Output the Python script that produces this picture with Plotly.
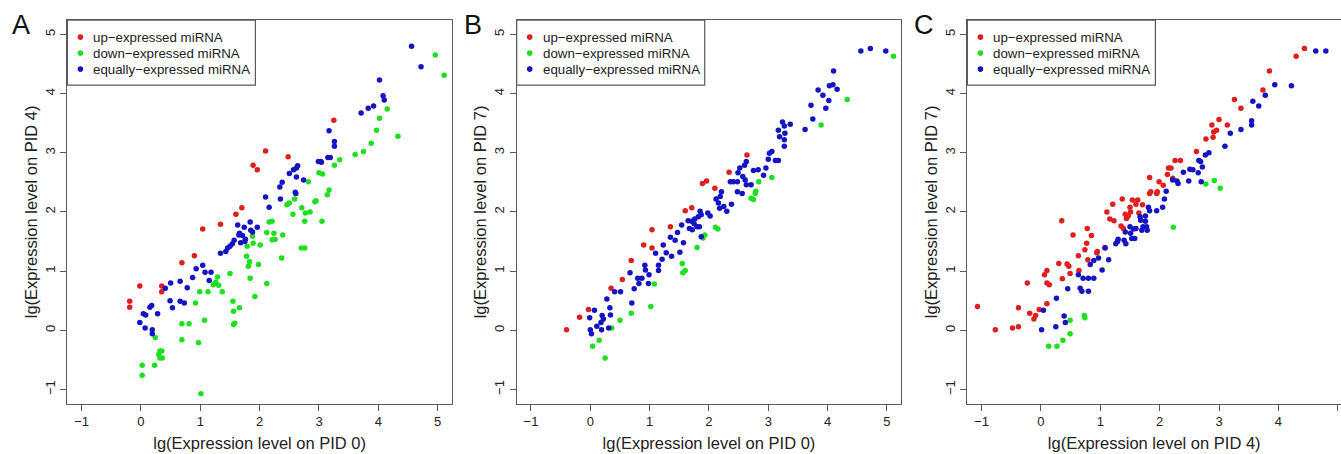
import plotly.graph_objects as go

# ---------------- Panel A : PID 0 (x) vs PID 4 (y) ----------------
a_up_x = [-0.19, -0.19, -0.02, 0.35, 0.35, 0.69, 0.90, 1.04, 1.34, 1.60, 1.70, 1.89, 1.96, 2.10, 2.48, 3.25]
a_up_y = [0.49, 0.39, 0.75, 0.75, 0.65, 1.14, 1.26, 1.71, 1.79, 1.96, 2.07, 2.79, 2.71, 3.03, 2.93, 3.55]

a_down_x = [0.02, 0.02, 0.24, 0.23, 0.32, 0.35, 0.32, 0.36, 0.30, 0.69, 0.81, 0.69, 0.92, 0.97, 0.99,
            1.01, 1.07, 1.13, 1.22, 1.29, 1.26, 1.31, 1.37, 1.50, 1.55, 1.56, 1.56, 1.58, 1.66, 1.78,
            1.79, 1.81, 1.83, 1.84, 1.88, 1.89, 1.92, 1.98, 2.01, 2.12, 2.12, 2.16, 2.21, 2.21, 2.24,
            2.26, 2.37, 2.39, 2.46, 2.50, 2.56, 2.59, 2.71, 2.70, 2.76, 2.76, 2.77, 2.82, 2.85, 2.93,
            2.95, 3.00, 3.06, 3.05, 3.14, 3.17, 3.26, 3.35, 3.61, 3.75, 3.88, 3.97, 4.02, 4.15, 4.33,
            4.96, 5.11]
a_down_y = [-0.59, -0.76, -0.12, -0.59, -0.35, -0.35, -0.47, -0.47, -0.41, 0.11, 0.11, -0.16, 0.46, -0.21, 0.65,
            -1.07, 0.17, 0.65, 0.77, 0.90, 0.81, 0.76, 0.65, 0.96, 0.49, 0.32, 0.10, 0.12, 0.38, 1.25,
            1.42, 1.08, 1.16, 0.88, 1.59, 1.47, 0.57, 1.11, 1.44, 1.65, 0.79, 1.83, 1.84, 1.53, 1.64,
            1.54, 1.22, 1.61, 2.12, 2.15, 1.96, 2.22, 2.07, 1.39, 1.39, 1.84, 1.98, 2.51, 2.00, 2.17,
            2.19, 2.66, 2.64, 1.84, 2.29, 2.37, 2.79, 2.88, 2.97, 3.02, 3.16, 3.38, 3.58, 3.74, 3.28,
            4.65, 4.31]

a_eq_x = [-0.02, 0.04, 0.08, 0.07, 0.15, 0.18, 0.19, 0.19, 0.28, 0.41, 0.50, 0.49, 0.53, 0.66, 0.66,
          0.73, 0.78, 0.87, 0.93, 1.04, 1.08, 1.15, 1.18, 1.34, 1.43, 1.46, 1.50, 1.54, 1.57, 1.63,
          1.66, 1.65, 1.68, 1.71, 1.74, 1.76, 1.75, 1.84, 1.85, 1.88, 1.96, 2.10, 2.16, 2.34, 2.38,
          2.35, 2.50, 2.57, 2.60, 2.62, 2.64, 2.62, 2.61, 2.74, 2.99, 3.04, 3.03, 3.15, 3.19, 3.17,
          3.26, 3.26, 3.71, 3.83, 3.92, 4.02, 4.08, 4.10, 4.56, 4.72]
a_eq_y = [0.13, 0.28, 0.26, 0.04, 0.39, 0.42, 0.01, -0.06, 0.28, 0.71, 0.80, 0.50, 0.38, 0.83, 0.49,
          0.46, 0.72, 0.89, 1.04, 1.10, 0.98, 0.84, 0.98, 1.30, 1.33, 1.39, 1.42, 1.46, 1.52, 1.78,
          1.64, 1.61, 1.48, 1.60, 1.74, 1.54, 1.50, 1.83, 1.69, 1.66, 1.74, 2.25, 2.08, 2.42, 2.50,
          2.22, 2.65, 2.71, 2.33, 2.59, 2.78, 2.74, 2.31, 2.54, 2.85, 2.84, 2.85, 2.92, 2.92, 3.37,
          3.19, 3.11, 3.67, 3.75, 3.79, 4.23, 3.96, 3.89, 4.80, 4.45]

# ---------------- Panel B : PID 0 (x) vs PID 7 (y) ----------------
b_up_x = [-0.40, -0.18, -0.03, 0.35, 0.54, 0.69, 0.90, 1.04, 1.04, 1.35, 1.60, 1.71, 1.89, 1.96, 2.10, 2.34, 2.64]
b_up_y = [0.01, 0.22, 0.35, 0.71, 0.86, 1.18, 1.44, 1.70, 1.39, 1.75, 2.02, 2.07, 2.48, 2.52, 2.40, 2.67, 2.96]

b_down_x = [0.04, 0.15, 0.25, 0.36, 0.50, 0.69, 1.02, 1.08, 1.55, 1.56, 1.60, 1.80, 1.90, 1.93, 2.11,
            2.15, 2.71, 2.75, 2.78, 2.79, 2.84, 3.06, 3.89, 4.33, 5.11]
b_down_y = [-0.27, -0.17, -0.47, 0.04, 0.17, 0.29, 0.40, 0.78, 1.13, 0.97, 1.01, 1.40, 1.56, 1.61, 1.74,
            1.71, 2.23, 2.21, 2.31, 2.35, 2.51, 2.58, 3.47, 3.90, 4.63]

b_eq_x = [0.00, 0.02, -0.01, 0.07, 0.11, 0.18, 0.20, 0.22, 0.19, 0.28, 0.31, 0.33, 0.34, 0.41, 0.51,
          0.67, 0.70, 0.74, 0.80, 0.82, 0.87, 0.92, 0.93, 0.99, 0.98, 1.10, 1.15, 1.15, 1.21, 1.23,
          1.28, 1.35, 1.37, 1.43, 1.47, 1.51, 1.54, 1.57, 1.65, 1.67, 1.71, 1.72, 1.75, 1.76, 1.80,
          1.82, 1.85, 1.84, 1.87, 1.87, 1.98, 2.02, 2.12, 2.16, 2.19, 2.21, 2.18, 2.25, 2.30, 2.38,
          2.36, 2.41, 2.48, 2.49, 2.48, 2.52, 2.56, 2.57, 2.60, 2.61, 2.63, 2.63, 2.71, 2.75, 2.83,
          2.92, 2.96, 3.00, 3.02, 3.06, 3.12, 3.17, 3.17, 3.19, 3.24, 3.27, 3.28, 3.27, 3.27, 3.37,
          3.62, 3.72, 3.75, 3.84, 3.92, 3.97, 4.02, 4.03, 4.09, 4.10, 4.16, 4.56, 4.72, 4.98]
b_eq_y = [0.01, -0.06, 0.21, 0.34, 0.07, 0.13, 0.25, 0.19, 0.01, 0.53, 0.04, 0.38, 0.26, 0.65, 0.65,
          0.97, 0.46, 0.70, 0.88, 0.79, 0.88, 1.10, 1.02, 0.94, 0.79, 1.30, 1.10, 1.01, 1.20, 1.44,
          1.31, 1.57, 1.25, 1.52, 1.65, 1.32, 1.78, 1.48, 1.85, 1.72, 1.84, 1.70, 1.80, 1.88, 1.75,
          1.92, 2.01, 1.75, 1.58, 1.95, 1.98, 1.93, 2.22, 2.15, 2.26, 2.34, 2.06, 2.09, 2.01, 2.13,
          2.51, 2.51, 2.51, 2.66, 2.34, 2.74, 2.31, 2.60, 2.79, 2.54, 2.85, 2.46, 2.46, 2.70, 2.71,
          2.62, 2.74, 2.89, 2.99, 3.02, 2.87, 2.87, 3.38, 3.27, 3.52, 3.45, 3.33, 3.22, 3.11, 3.48,
          3.39, 3.80, 3.57, 4.06, 3.97, 3.75, 3.88, 4.13, 4.15, 4.38, 4.07, 4.72, 4.76, 4.72]

# ---------------- Panel C : PID 4 (x) vs PID 7 (y) ----------------
c_up_x = [-1.07, -0.77, -0.48, -0.38, -0.38, -0.23, -0.19, -0.12, -0.09, -0.03, 0.06, 0.10, 0.10, 0.14, 0.10,
          0.30, 0.36, 0.35, 0.44, 0.47, 0.49, 0.54, 0.63, 0.64, 0.74, 0.77, 0.78, 0.79, 0.85, 0.94,
          0.95, 1.08, 1.11, 1.16, 1.21, 1.23, 1.37, 1.35, 1.39, 1.42, 1.44, 1.47, 1.50, 1.51, 1.54,
          1.60, 1.63, 1.65, 1.71, 1.83, 1.83, 1.85, 1.95, 1.96, 1.99, 2.06, 2.13, 2.15, 2.19, 2.22,
          2.26, 2.35, 2.62, 2.78, 2.88, 2.90, 2.91, 2.96, 3.00, 3.14, 3.26, 3.37, 3.74, 3.85, 4.30,
          4.44]
c_up_y = [0.40, 0.01, 0.04, 0.06, 0.38, 0.80, 0.29, 0.19, 0.25, 0.35, 0.94, 1.01, 0.80, 0.77, 0.45,
          1.13, 0.87, 1.85, 1.12, 1.08, 0.96, 1.61, 1.26, 1.01, 1.36, 1.47, 1.72, 1.19, 1.60, 1.31,
          1.33, 1.40, 2.00, 1.88, 2.13, 1.85, 2.22, 1.76, 1.72, 1.96, 1.89, 1.93, 2.08, 2.00, 2.20,
          2.13, 2.20, 1.98, 2.12, 2.58, 2.31, 2.34, 2.31, 2.34, 2.51, 2.45, 2.63, 2.74, 2.74, 2.57,
          2.87, 2.87, 3.02, 3.23, 3.47, 3.26, 3.35, 3.38, 3.56, 3.47, 3.90, 3.75, 4.06, 4.38, 4.63,
          4.76]

c_down_x = [0.13, 0.27, 0.37, 0.49, 0.49, 0.73, 0.74, 2.23, 2.78, 2.92, 3.02]
c_down_y = [-0.27, -0.27, -0.17, -0.06, 0.17, 0.25, 0.21, 1.74, 2.47, 2.53, 2.40]

c_eq_x = [0.01, 0.04, 0.25, 0.26, 0.39, 0.41, 0.45, 0.63, 0.66, 0.69, 0.71, 0.80, 0.80, 0.83, 0.89,
          0.89, 0.97, 1.03, 1.08, 1.14, 1.26, 1.30, 1.29, 1.40, 1.42, 1.43, 1.50, 1.51, 1.53, 1.58,
          1.56, 1.60, 1.67, 1.68, 1.70, 1.72, 1.76, 1.76, 1.78, 1.79, 1.81, 1.83, 1.95, 2.05, 2.08,
          2.11, 2.22, 2.29, 2.31, 2.40, 2.49, 2.51, 2.56, 2.65, 2.66, 2.69, 2.72, 2.70, 2.77, 2.83,
          3.10, 3.19, 3.37, 3.55, 3.55, 3.57, 3.67, 3.78, 3.94, 4.22, 4.63, 4.80]
c_eq_y = [0.01, 0.34, 0.06, 0.54, 0.24, 0.13, 0.70, 0.94, 0.71, 0.66, 0.88, 0.66, 0.88, 1.11, 0.88,
          1.18, 1.22, 1.02, 1.39, 1.19, 1.46, 1.54, 1.50, 1.52, 1.66, 1.46, 1.75, 1.64, 1.55, 1.55,
          1.71, 1.72, 1.92, 1.86, 1.69, 1.75, 1.93, 1.84, 1.75, 1.69, 2.08, 2.02, 2.02, 2.08, 2.22,
          2.35, 2.54, 2.52, 2.48, 2.67, 2.52, 2.72, 2.71, 2.66, 2.87, 2.85, 2.76, 2.51, 2.96, 3.00,
          3.11, 3.33, 3.39, 3.54, 3.47, 3.87, 3.79, 3.97, 4.15, 4.13, 4.72, 4.72]

series_names = ["up\u2212expressed miRNA", "down\u2212expressed miRNA", "equally\u2212expressed miRNA"]
series_colors = ["#e01e1e", "#1fe01f", "#1414c4"]
tick_vals = [-1, 0, 1, 2, 3, 4, 5]
panel_letters = ["A", "B", "C"]
x_titles = ["lg(Expression level on PID 0)", "lg(Expression level on PID 0)", "lg(Expression level on PID 4)"]
y_titles = ["lg(Expression level on PID 4)", "lg(Expression level on PID 7)", "lg(Expression level on PID 7)"]

panels = [
    [(a_up_x, a_up_y), (a_down_x, a_down_y), (a_eq_x, a_eq_y)],
    [(b_up_x, b_up_y), (b_down_x, b_down_y), (b_eq_x, b_eq_y)],
    [(c_up_x, c_up_y), (c_down_x, c_down_y), (c_eq_x, c_eq_y)],
]

W, H = 1341, 454
box_left = [67.4, 516.7, 967.4]
x_domains = [[67.4 / W, 451.9 / W], [516.7 / W, 901.2 / W], [967.4 / W, 1.0]]
x_ranges = [[-1.24, 5.24], [-1.24, 5.24], [-1.24, 5.056]]
box_top, box_bottom = 20.1, 403.7
y_domain = [(H - box_bottom) / H, (H - box_top) / H]
y_range = [-1.24, 5.24]

FONT = "Liberation Sans, Arial, Helvetica, sans-serif"
LINE = "#5a5a5a"

# legend geometry (pixels, relative to each panel's box corner)
LEG_W, LEG_H = 188, 65
LEG_ROW_Y = [17, 33, 49]
LEG_DOT_X, LEG_TEXT_X, DOT_R = 13, 24, 2.8

fig = go.Figure()
for p, groups in enumerate(panels):
    xa = "x" if p == 0 else f"x{p+1}"
    ya = "y" if p == 0 else f"y{p+1}"
    for g, (xs, ys) in enumerate(groups):
        fig.add_trace(go.Scatter(
            x=xs, y=ys, mode="markers", name=series_names[g],
            marker=dict(color=series_colors[g], size=5.5, line=dict(width=0)),
            xaxis=xa, yaxis=ya, showlegend=False,
        ))

def px_x(v):
    return v / W

def px_y(v):
    return (H - v) / H

layout = dict(
    width=W, height=H, autosize=False,
    margin=dict(l=0, r=0, t=0, b=0),
    paper_bgcolor="white", plot_bgcolor="white",
    font=dict(family=FONT, size=13, color="#111"),
    annotations=[], shapes=[],
)
for p in range(3):
    sfx = "" if p == 0 else str(p + 1)
    layout["xaxis" + sfx] = dict(
        domain=x_domains[p], range=x_ranges[p], anchor="y" + sfx,
        tickmode="array", tickvals=tick_vals,
        showgrid=False, zeroline=False,
        showline=True, linecolor=LINE, linewidth=1.2, mirror=True,
        ticks="outside", ticklen=6, tickcolor=LINE, tickwidth=1.2,
        tickfont=dict(size=13, color="#222"),
        title=dict(text=x_titles[p], font=dict(size=16.5, color="#222"), standoff=9),
    )
    layout["yaxis" + sfx] = dict(
        domain=y_domain, range=y_range, anchor="x" + sfx,
        tickmode="array", tickvals=tick_vals, tickangle=-90,
        showgrid=False, zeroline=False,
        showline=True, linecolor=LINE, linewidth=1.2, mirror=(p < 2),
        ticks="outside", ticklen=6, tickcolor=LINE, tickwidth=1.2,
        tickfont=dict(size=13, color="#222"),
        title=dict(text=y_titles[p], font=dict(size=16.5, color="#222"), standoff=1),
    )
    # legend box drawn in the panel's top-left corner
    L = box_left[p]
    layout["shapes"].append(dict(
        type="rect", xref="paper", yref="paper", layer="above",
        x0=px_x(L), x1=px_x(L + LEG_W), y0=px_y(box_top), y1=px_y(box_top + LEG_H),
        line=dict(color=LINE, width=1.2), fillcolor="white",
    ))
    for g in range(3):
        cy = box_top + LEG_ROW_Y[g]
        cx = L + LEG_DOT_X
        layout["shapes"].append(dict(
            type="circle", xref="paper", yref="paper", layer="above",
            x0=px_x(cx - DOT_R), x1=px_x(cx + DOT_R), y0=px_y(cy + DOT_R), y1=px_y(cy - DOT_R),
            line=dict(width=0), fillcolor=series_colors[g],
        ))
        layout["annotations"].append(dict(
            text=series_names[g], xref="paper", yref="paper",
            x=px_x(L + LEG_TEXT_X), y=px_y(cy), xanchor="left", yanchor="middle",
            showarrow=False, font=dict(size=13.3, color="#222", family=FONT),
        ))
    layout["annotations"].append(dict(
        text=panel_letters[p], xref="paper", yref="paper",
        x=px_x([10, 462, 912][p]), y=px_y(8),
        xanchor="left", yanchor="top", showarrow=False,
        font=dict(size=27, color="#111", family=FONT),
    ))

fig.update_layout(**layout)
fig.write_html(
    "out.html",
    config={"displayModeBar": False},
    post_script="document.body.style.margin='0';document.body.style.overflow='hidden';",
)
